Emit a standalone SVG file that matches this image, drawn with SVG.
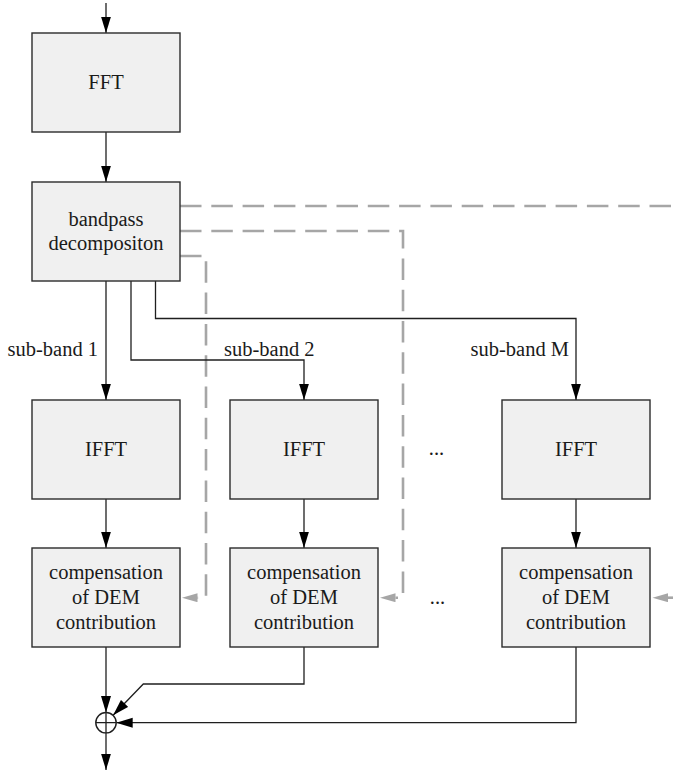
<svg xmlns="http://www.w3.org/2000/svg" width="673" height="777" viewBox="0 0 673 777">
  <style>
    .box { fill: #f0f0f0; stroke: #2b2b2b; stroke-width: 1.4; }
    .lbl { font-size: 20.5px; fill: #1a1a1a; text-anchor: middle; }
    .side { font-size: 20.5px; fill: #1a1a1a; }
    .wire { fill: none; stroke: #1f1f1f; stroke-width: 1.3; }
    .ctrl { fill: none; stroke: #a6a6a6; stroke-width: 2.6; stroke-dasharray: 21.5 9.8; }
  </style>
  <defs>
    <marker id="arrow" markerUnits="userSpaceOnUse" markerWidth="17" markerHeight="11" refX="16.5" refY="5" orient="auto">
      <path d="M0,0 L16.5,5 L0,10 Z" fill="#000"/>
    </marker>
    <marker id="arrowGray" markerUnits="userSpaceOnUse" markerWidth="16" markerHeight="10" refX="0" refY="4.5" orient="auto">
      <path d="M0,0 L15.5,4.5 L0,9 Z" fill="#a6a6a6"/>
    </marker>
  </defs>

  <!-- dashed control paths from the decomposition block -->
  <g id="control-lines">
    <path class="ctrl" d="M180,206 H673"/>
    <path class="ctrl" d="M180,231 H403 V597.7 H395.5" marker-end="url(#arrowGray)"/>
    <path class="ctrl" d="M180,256 H206 V597.7 H197.5" marker-end="url(#arrowGray)"/>
    <path fill="none" stroke="#a6a6a6" stroke-width="2.6" d="M673,597.7 H668" marker-end="url(#arrowGray)"/>
  </g>

  <!-- signal connectors -->
  <g id="connectors">
    <path class="wire" d="M106,3 V33" marker-end="url(#arrow)"/>
    <path class="wire" d="M106,132 V182" marker-end="url(#arrow)"/>
    <path class="wire" d="M106,281 V400" marker-end="url(#arrow)"/>
    <path class="wire" d="M131,281 V360 H304 V400" marker-end="url(#arrow)"/>
    <path class="wire" d="M155.5,281 V318.5 H576 V400" marker-end="url(#arrow)"/>
    <path class="wire" d="M106,499 V548" marker-end="url(#arrow)"/>
    <path class="wire" d="M304,499 V548" marker-end="url(#arrow)"/>
    <path class="wire" d="M576,499 V548" marker-end="url(#arrow)"/>
    <path class="wire" d="M106,647 V712.5" marker-end="url(#arrow)"/>
    <path class="wire" d="M304,647 V684 H143.3 L113.1,715.3" marker-end="url(#arrow)"/>
    <path class="wire" d="M576,647 V722.7 H116.2" marker-end="url(#arrow)"/>
    <path class="wire" d="M106,733 V770" marker-end="url(#arrow)"/>
  </g>

  <g font-family="Liberation Serif, Times New Roman, DejaVu Serif, serif">
    <g id="fft">
      <rect class="box" x="32" y="33" width="148" height="99"/>
      <text class="lbl" x="106" y="89">FFT</text>
    </g>

    <g id="bandpass">
      <rect class="box" x="32" y="182" width="148" height="99"/>
      <text class="lbl" x="106" y="225.5">bandpass</text>
      <text class="lbl" x="106" y="250">decompositon</text>
    </g>

    <g id="subband-labels">
      <text class="side" x="7.5" y="355.5">sub-band 1</text>
      <text class="side" x="224" y="355.5">sub-band 2</text>
      <text class="side" x="470.5" y="355.5">sub-band M</text>
    </g>

    <g id="ifft-1">
      <rect class="box" x="32" y="400" width="148" height="99"/>
      <text class="lbl" x="106" y="456">IFFT</text>
    </g>
    <g id="ifft-2">
      <rect class="box" x="230" y="400" width="148" height="99"/>
      <text class="lbl" x="304" y="456">IFFT</text>
    </g>
    <g id="ifft-m">
      <rect class="box" x="502" y="400" width="148" height="99"/>
      <text class="lbl" x="576" y="456">IFFT</text>
    </g>

    <g id="comp-1">
      <rect class="box" x="32" y="548" width="148" height="99"/>
      <text class="lbl" x="106" y="579">compensation</text>
      <text class="lbl" x="106" y="604">of DEM</text>
      <text class="lbl" x="106" y="629">contribution</text>
    </g>
    <g id="comp-2">
      <rect class="box" x="230" y="548" width="148" height="99"/>
      <text class="lbl" x="304" y="579">compensation</text>
      <text class="lbl" x="304" y="604">of DEM</text>
      <text class="lbl" x="304" y="629">contribution</text>
    </g>
    <g id="comp-m">
      <rect class="box" x="502" y="548" width="148" height="99"/>
      <text class="lbl" x="576" y="579">compensation</text>
      <text class="lbl" x="576" y="604">of DEM</text>
      <text class="lbl" x="576" y="629">contribution</text>
    </g>

    <g id="ellipsis">
      <text class="lbl" x="436.5" y="455">...</text>
      <text class="lbl" x="437.5" y="603.5">...</text>
    </g>
  </g>

  <g id="sum">
    <circle cx="106" cy="722.7" r="10.2" fill="#fff" stroke="#1f1f1f" stroke-width="1.4"/>
    <path class="wire" d="M95.8,722.7 H116.2 M106,712.5 V732.9"/>
  </g>
</svg>
